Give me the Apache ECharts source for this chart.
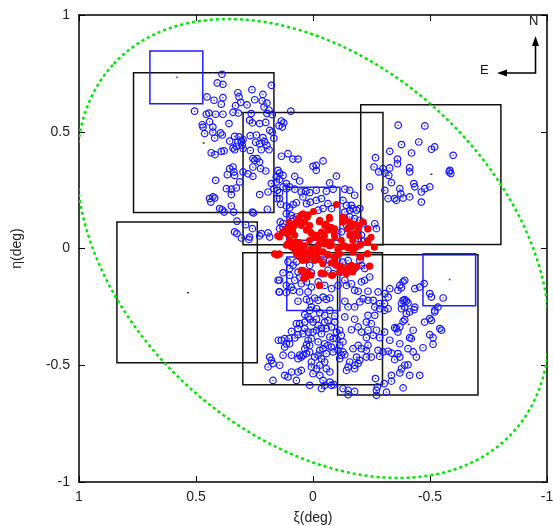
<!DOCTYPE html>
<html><head><meta charset="utf-8">
<script src="https://cdn.jsdelivr.net/npm/echarts@6/dist/echarts.min.js"></script>
<style>html,body{margin:0;padding:0;background:#fff}#c{width:553px;height:526px}</style>
</head><body><div id="c"></div>
<script>
// ---- data ----
var xTickValues = [1, 0.5, 0, -0.5, -1];
var yTickValues = [-1, -0.5, 0, 0.5, 1];

// black field boxes: [xiA, xiB, etaA, etaB]
var blackBoxes = [
  [0.167, 0.767, 0.154, 0.753],
  [-0.299, 0.299, 0.016, 0.582],
  [-0.803, -0.204, 0.017, 0.616],
  [0.238, 0.838, -0.489, 0.113],
  [-0.297, 0.300, -0.583, -0.018],
  [-0.705, -0.105, -0.627, -0.027]
];
// blue boxes
var blueBoxes = [
  [0.471, 0.697, 0.620, 0.846],
  [-0.695, -0.470, -0.245, -0.022],
  [-0.115, 0.112, 0.035, 0.262],
  [-0.115, 0.112, -0.265, -0.036]
];
var blackCentres = [[0.467, 0.452], [-0.506, 0.318], [0.534, -0.189], [-0.409, -0.325]];
var blueCentres = [[0.582, 0.733], [-0.584, -0.133]];

// ellipse: centre xi, centre eta, semi-major, semi-minor, angle (deg)
var ellipseParams = [0, 0, 1.162, 0.796, 42.9];

var bluePoints = [
[0.389,0.746],[0.409,0.709],[0.385,0.703],[0.178,0.699],[0.321,0.667],[0.261,0.680],[0.214,0.660],[0.453,0.649],[0.423,0.635],[0.385,0.646],[0.316,0.649],[0.249,0.637],[0.217,0.632],[0.197,0.623],[0.392,0.618],[0.331,0.612],[0.282,0.615],[0.209,0.606],[0.309,0.626],[0.506,0.588],[0.456,0.575],[0.445,0.580],[0.416,0.575],[0.385,0.575],[0.342,0.583],[0.319,0.580],[0.264,0.578],[0.197,0.578],[0.188,0.592],[0.174,0.573],[0.095,0.588],[0.442,0.543],[0.473,0.530],[0.470,0.520],[0.428,0.520],[0.359,0.535],[0.271,0.549],[0.259,0.538],[0.228,0.535],[0.202,0.540],[0.135,0.546],[0.125,0.538],[0.145,0.526],[0.131,0.520],[0.428,0.498],[0.463,0.492],[0.395,0.495],[0.388,0.486],[0.335,0.480],[0.316,0.478],[0.299,0.466],[0.268,0.483],[0.242,0.486],[0.214,0.475],[0.185,0.506],[0.174,0.499],[0.167,0.472],[0.420,0.473],[0.356,0.460],[0.321,0.456],[0.306,0.460],[0.328,0.438],[0.302,0.442],[0.342,0.430],[0.335,0.423],[0.245,0.455],[0.228,0.449],[0.207,0.458],[0.197,0.442],[0.268,0.420],[0.221,0.423],[0.188,0.423],[0.380,0.418],[0.435,0.410],[0.419,0.402],[0.392,0.416],[0.299,0.428],[0.135,0.395],[0.107,0.406],[0.086,0.383],[0.064,0.383],[0.257,0.385],[0.239,0.385],[0.228,0.370],[0.249,0.378],[0.356,0.342],[0.342,0.349],[0.338,0.328],[0.366,0.316],[0.335,0.313],[0.299,0.328],[0.257,0.349],[0.224,0.342],[0.202,0.332],[0.278,0.320],[0.257,0.309],[0.150,0.335],[0.143,0.323],[0.128,0.313],[0.157,0.306],[0.078,0.309],[0.057,0.289],[0.000,0.352],[0.416,0.292],[0.313,0.285],[0.178,0.278],[0.157,0.285],[0.114,0.278],[0.143,0.296],
[0.370,0.256],[0.349,0.254],[0.328,0.259],[0.228,0.231],[0.192,0.242],[0.167,0.256],[0.152,0.249],[0.143,0.239],[0.128,0.264],[0.114,0.256],[0.100,0.264],[0.078,0.254],[0.050,0.242],[0.031,0.245],[0.014,0.239],[0.428,0.221],[0.442,0.214],[0.420,0.216],[0.437,0.199],[0.349,0.231],[0.399,0.171],[0.388,0.166],[0.380,0.156],[0.349,0.182],[0.339,0.156],[0.325,0.117],[0.288,0.102],[0.259,0.156],[0.254,0.152],[0.195,0.168],[0.154,0.214],[0.143,0.214],[0.138,0.189],[0.114,0.182],[0.100,0.174],[0.085,0.188],[0.071,0.196],[0.043,0.221],[0.028,0.192],[0.011,0.199],[0.114,0.149],[0.093,0.142],[0.085,0.128],[0.071,0.135],[0.140,0.114],[0.128,0.107],[0.335,0.071],[0.325,0.064],[0.306,0.045],[0.271,0.049],[0.274,0.039],[0.228,0.054],[0.221,0.064],[0.192,0.067],[0.185,0.049],[0.259,0.085],[0.143,0.085],[0.128,0.092],[0.114,0.071],[0.100,0.057],[0.107,-0.057],[0.100,-0.086],[0.085,-0.072],[0.071,-0.057],[0.064,-0.101],[0.100,-0.115],[0.128,-0.104],[0.143,-0.136],[0.114,-0.158],[0.093,-0.165],[0.078,-0.136],[0.057,-0.122],[0.050,-0.151],[0.014,-0.072],[0.007,-0.104],[0.028,-0.143],[0.007,-0.165],[0.143,-0.186],[0.114,-0.189],[0.085,-0.179],[0.057,-0.186],[0.021,-0.186],
[-0.014,0.249],[-0.057,0.245],[-0.086,0.254],[-0.136,0.254],[-0.157,0.249],[-0.178,0.228],[-0.242,0.264],[-0.307,0.249],[-0.321,0.214],[-0.349,0.214],[-0.356,0.206],[-0.371,0.256],[-0.375,0.235],[-0.385,0.216],[-0.413,0.221],[-0.435,0.264],[-0.463,0.242],[-0.478,0.256],[-0.499,0.264],[-0.463,0.199],[-0.014,0.206],[-0.036,0.214],[-0.064,0.192],[-0.022,0.164],[-0.043,0.171],[-0.079,0.171],[-0.128,0.206],[-0.143,0.185],[-0.136,0.156],[-0.157,0.164],[-0.171,0.171],[-0.186,0.164],[-0.200,0.171],[-0.164,0.185],[-0.136,0.128],[-0.157,0.135],[-0.178,0.128],[-0.200,0.121],[-0.214,0.106],[-0.264,0.106],[-0.271,0.085],[-0.143,0.099],[-0.150,0.085],[-0.121,0.071],[-0.164,0.057],[-0.186,0.064],[-0.207,0.057],[-0.193,0.042],[-0.207,0.035],[-0.014,0.006],[-0.014,-0.043],[-0.043,-0.058],[-0.071,-0.051],[-0.093,-0.065],[-0.064,-0.093],[-0.036,-0.108],[-0.086,-0.108],[-0.121,-0.101],[-0.143,-0.101],[-0.157,-0.079],[-0.178,-0.086],[-0.200,-0.051],[-0.207,-0.072],[-0.221,-0.086],[-0.128,-0.058],[-0.150,-0.051],[-0.022,-0.143],[-0.050,-0.158],[-0.079,-0.172],[-0.107,-0.158],[-0.136,-0.136],[-0.143,-0.158],[-0.164,-0.151],[-0.207,-0.143],[-0.221,-0.136],[-0.242,-0.122],[-0.178,-0.179],[-0.193,-0.183],[-0.235,-0.183],[-0.278,-0.186],[-0.307,-0.193],[-0.328,-0.172],[-0.371,-0.158],[-0.385,-0.143],[-0.392,-0.136],[-0.435,-0.172],[-0.456,-0.165],[-0.499,-0.193],
[-0.043,0.375],[-0.014,0.356],[-0.014,0.335],[-0.071,0.281],[-0.100,0.310],[-0.267,0.389],[-0.261,0.349],[-0.281,0.328],[-0.299,0.342],[-0.307,0.323],[-0.328,0.345],[-0.324,0.313],[-0.328,0.416],[-0.361,0.383],[-0.361,0.363],[-0.364,0.528],[-0.378,0.445],[-0.421,0.409],[-0.452,0.456],[-0.478,0.525],[-0.506,0.425],[-0.520,0.435],[-0.599,0.399],[-0.413,0.346],[-0.413,0.328],[-0.335,0.282],[-0.431,0.278],[-0.585,0.335],[-0.589,0.321],[-0.582,0.328],
[-0.506,-0.208],[-0.556,-0.212],[-0.321,-0.208],[-0.392,-0.219],[-0.399,-0.225],[-0.406,-0.233],[-0.378,-0.236],[-0.385,-0.222],[-0.235,-0.222],[-0.257,-0.222],[-0.285,-0.236],[-0.306,-0.236],[-0.264,-0.251],[-0.285,-0.258],[-0.306,-0.265],[-0.321,-0.258],[-0.378,-0.258],[-0.392,-0.251],[-0.435,-0.251],[-0.432,-0.262],[-0.534,-0.251],[-0.520,-0.265],[-0.520,-0.272],[-0.235,-0.286],[-0.264,-0.286],[-0.399,-0.279],[-0.413,-0.272],[-0.392,-0.305],[-0.385,-0.312],[-0.477,-0.315],[-0.499,-0.300],[-0.506,-0.308],[-0.542,-0.343],[-0.549,-0.350],[-0.228,-0.315],[-0.249,-0.322],[-0.371,-0.336],[-0.363,-0.358],[-0.428,-0.350],[-0.499,-0.369],[-0.513,-0.382],[-0.235,-0.350],[-0.271,-0.350],[-0.306,-0.358],[-0.257,-0.372],[-0.285,-0.382],[-0.228,-0.382],[-0.349,-0.339],[-0.356,-0.343],[-0.413,-0.382],[-0.420,-0.386],[-0.328,-0.393],[-0.371,-0.408],[-0.513,-0.410],[-0.470,-0.425],[-0.406,-0.429],[-0.428,-0.443],[-0.442,-0.465],[-0.235,-0.415],[-0.228,-0.436],[-0.278,-0.436],[-0.299,-0.443],[-0.321,-0.440],[-0.335,-0.448],[-0.363,-0.450],[-0.371,-0.465],[-0.249,-0.465],[-0.228,-0.465],[-0.285,-0.462],[-0.349,-0.476],[-0.392,-0.500],[-0.378,-0.515],[-0.406,-0.498],[-0.371,-0.533],[-0.335,-0.543],[-0.335,-0.568],[-0.413,-0.543],[-0.456,-0.543],[-0.267,-0.557],[-0.304,-0.579],[-0.275,-0.593],[-0.271,-0.608],[-0.271,-0.629],[-0.314,-0.615],[-0.385,-0.597],[-0.378,-0.168],[-0.363,-0.179],[-0.475,-0.150],
[0.064,-0.226],[0.028,-0.218],[0.014,-0.226],[-0.007,-0.212],[-0.022,-0.222],[-0.043,-0.208],[-0.057,-0.218],[-0.072,-0.212],[0.007,-0.250],[-0.015,-0.258],[0.014,-0.265],[-0.029,-0.275],[-0.072,-0.265],[-0.050,-0.286],[-0.093,-0.289],[-0.136,-0.226],[-0.150,-0.250],[-0.178,-0.250],[-0.200,-0.229],[-0.214,-0.215],[-0.136,-0.293],[-0.178,-0.303],[-0.193,-0.336],[-0.207,-0.358],[-0.164,-0.348],[0.035,-0.283],[0.021,-0.293],[0.014,-0.303],[0.035,-0.315],[0.057,-0.322],[0.071,-0.322],[0.064,-0.343],[0.035,-0.343],[0.000,-0.315],[-0.015,-0.303],[-0.022,-0.329],[-0.036,-0.343],[-0.050,-0.315],[-0.064,-0.308],[-0.057,-0.343],[-0.079,-0.336],[-0.093,-0.315],[-0.100,-0.358],[-0.114,-0.350],[-0.100,-0.386],[0.092,-0.355],[0.064,-0.369],[0.043,-0.365],[0.021,-0.358],[0.000,-0.358],[-0.015,-0.350],[-0.036,-0.365],[-0.072,-0.379],[-0.086,-0.386],[0.135,-0.393],[0.121,-0.386],[0.102,-0.386],[0.114,-0.408],[0.121,-0.422],[0.100,-0.408],[0.078,-0.383],[0.021,-0.393],[0.028,-0.412],[0.035,-0.429],[0.014,-0.415],[0.007,-0.386],[-0.022,-0.400],[-0.050,-0.408],[-0.064,-0.415],[-0.079,-0.422],[-0.086,-0.443],[-0.057,-0.450],[-0.043,-0.429],[-0.029,-0.436],[-0.022,-0.457],[-0.036,-0.472],[-0.007,-0.465],[0.007,-0.486],[0.014,-0.443],[0.028,-0.450],[0.043,-0.457],[0.057,-0.457],[0.064,-0.472],[0.050,-0.465],[0.092,-0.457],[0.128,-0.457],[0.142,-0.500],[0.185,-0.465],[0.178,-0.479],[0.192,-0.507],[0.171,-0.493],[0.121,-0.543],[0.107,-0.550],[0.092,-0.529],[0.064,-0.529],[0.050,-0.522],[0.007,-0.507],[-0.015,-0.515],[-0.029,-0.500],[-0.050,-0.486],[-0.057,-0.515],[-0.072,-0.529],[0.000,-0.536],[-0.029,-0.543],[-0.043,-0.565],[-0.050,-0.586],[-0.036,-0.600],[0.014,-0.586],[0.071,-0.565],[-0.072,-0.572],[-0.114,-0.472],[-0.121,-0.457],[-0.128,-0.443],[-0.107,-0.436],[-0.114,-0.415],[-0.136,-0.455],[-0.157,-0.486],[-0.178,-0.500],[-0.193,-0.493],[-0.178,-0.515],[-0.143,-0.522],[-0.150,-0.507],[-0.186,-0.465],[-0.200,-0.479],[-0.207,-0.429],[-0.193,-0.415],[-0.171,-0.429],[-0.128,-0.400],[-0.121,-0.372],[-0.128,-0.600],[-0.150,-0.607],[-0.150,-0.626],[-0.178,-0.612],[0.171,-0.565],[-0.079,-0.586],[-0.089,-0.583],[0.149,-0.136],[0.145,-0.186],[0.148,-0.393]
];

var redPoints = [
[0.143,0.049],[0.154,-0.029],[0.145,-0.022],[0.128,0.071],[0.114,0.082],[0.100,0.092],[0.093,0.071],[0.078,0.057],[0.071,0.114],[0.064,0.128],[0.043,0.149],[0.021,0.145],[0.036,0.114],[0.050,0.099],[0.014,0.099],[0.028,0.078],[0.007,0.064],[0.100,0.035],[0.071,0.028],[0.057,0.014],[0.093,0.007],[0.078,-0.008],[0.043,-0.008],[0.028,-0.015],[0.007,0.000],[0.057,-0.036],[0.043,-0.022],[0.028,-0.050],[0.071,-0.022],[0.036,-0.101],[0.040,-0.129],[0.050,-0.093],[0.021,-0.115],[0.107,0.021],[0.114,0.014],
[-0.100,0.188],[-0.029,0.121],[-0.071,0.128],[-0.128,0.135],[-0.136,0.121],[-0.050,0.099],[-0.064,0.078],[-0.036,0.071],[-0.014,0.057],[-0.093,0.085],[-0.093,0.049],[-0.043,0.035],[-0.064,0.028],[-0.022,0.014],[-0.079,0.014],[-0.121,0.035],[-0.164,0.092],[-0.193,0.099],[-0.193,0.085],[-0.214,0.114],[-0.235,0.085],[-0.157,0.057],[-0.178,0.064],[-0.235,0.035],[-0.121,0.007],[-0.143,0.007],[-0.150,0.002],[-0.178,0.007],[-0.200,0.014],[-0.171,-0.015],[-0.107,-0.022],[-0.043,-0.015],[-0.014,-0.022],[-0.064,-0.029],[-0.200,-0.036],[-0.232,-0.022],[-0.242,-0.075],[-0.186,-0.079],[-0.164,-0.072],[-0.143,-0.108],[-0.100,-0.072],[-0.079,-0.115],[-0.029,-0.158],[-0.093,-0.058],
[-0.002,0.158],[0.051,0.144],[0.025,0.134],[0.058,0.124],[0.101,0.112],[0.080,0.098],[0.115,0.084],[0.151,0.055],[0.130,0.069],[0.108,0.062],[0.087,0.076],[0.023,0.084],[0.008,0.069],[-0.027,0.115],[-0.070,0.134],[-0.056,0.105],[-0.077,0.091],[-0.091,0.062],[-0.127,0.112],[-0.155,0.115],[-0.177,0.105],[-0.213,0.112],[-0.191,0.091],[-0.234,0.084],[-0.248,0.048],[-0.148,0.084],[-0.163,0.055],[-0.191,0.055],[-0.170,0.034],[-0.134,0.012],[-0.155,0.005],[-0.184,0.005],[-0.205,0.019],[-0.234,0.026],[-0.262,0.005],[0.108,0.019],[0.087,0.026],[0.058,0.026],[0.037,0.012],[0.015,0.034],[-0.006,0.048],[-0.027,0.041],[-0.049,0.019],[-0.070,0.012],[-0.020,0.005],[0.008,-0.002],[0.051,-0.002],[0.080,0.005],[-0.106,-0.002],[-0.077,0.026],[-0.049,0.055],
[0.165,-0.022],[0.144,-0.025],[0.073,-0.015],[0.051,-0.029],[0.023,-0.019],[0.001,-0.025],[-0.020,-0.019],[-0.042,-0.015],[-0.063,-0.025],[-0.091,-0.036],[-0.113,-0.022],[0.044,-0.051],[0.023,-0.043],[-0.006,-0.051],[-0.027,-0.048],[-0.042,-0.065],[-0.077,-0.062],[-0.099,-0.072],[-0.120,-0.076],[-0.148,-0.082],[-0.170,-0.079],[-0.188,-0.076],[-0.205,-0.036],[-0.234,-0.022],[-0.241,-0.076],[0.044,-0.093],[0.037,-0.108],[0.023,-0.101],[0.008,-0.115],[-0.035,-0.105],[-0.049,-0.108],[-0.084,-0.115],[-0.113,-0.101],[-0.134,-0.096],[-0.170,-0.101],[0.037,-0.129],[-0.027,-0.158]
];

// ---- chart ----
var chart = echarts.init(document.getElementById('c'), null, {renderer: 'canvas'});
var FONT = 'Liberation Sans, Arial, sans-serif';
var gridBox = {left: 79, top: 15, width: 468, height: 467, outerBoundsMode: 'none', containLabel: false};

function boxSeries(boxes, color, width) {
  return {
    type: 'custom', coordinateSystem: 'cartesian2d', silent: true, z: 3,
    encode: {x: [0, 1], y: [2, 3]},
    data: boxes,
    renderItem: function (params, api) {
      var a = api.coord([api.value(0), api.value(2)]);
      var b = api.coord([api.value(1), api.value(3)]);
      return {
        type: 'rect',
        shape: {x: Math.min(a[0], b[0]), y: Math.min(a[1], b[1]),
                width: Math.abs(a[0] - b[0]), height: Math.abs(a[1] - b[1])},
        style: {fill: null, stroke: color, lineWidth: width}
      };
    }
  };
}

var option = {
  animation: false,
  backgroundColor: '#fff',
  grid: gridBox,
  xAxis: [{
    type: 'value', inverse: true, min: -1, max: 1, interval: 0.5, position: 'bottom',
    name: 'ξ(deg)', nameLocation: 'middle', nameGap: 29,
    nameTextStyle: {fontFamily: FONT, fontSize: 14, color: '#222'},
    axisLine: {show: true, onZero: false, lineStyle: {color: '#000', width: 1.5}},
    axisTick: {show: true, inside: true, length: 6, lineStyle: {color: '#000', width: 1}},
    axisLabel: {fontFamily: FONT, fontSize: 14, color: '#222', margin: 8, hideOverlap: false,
      formatter: function (v) { return xTickValues.indexOf(v) >= 0 ? String(v) : ''; }},
    splitLine: {show: false}
  }, {
    type: 'value', inverse: true, min: -1, max: 1, interval: 0.5, position: 'top',
    axisLine: {show: true, onZero: false, lineStyle: {color: '#000', width: 1.5}},
    axisTick: {show: true, inside: true, length: 6, lineStyle: {color: '#000', width: 1}},
    axisLabel: {show: false}, splitLine: {show: false}
  }],
  yAxis: [{
    type: 'value', min: -1, max: 1, interval: 0.5, position: 'left',
    name: 'η(deg)', nameLocation: 'middle', nameGap: 55, nameRotate: 90,
    nameTextStyle: {fontFamily: FONT, fontSize: 14, color: '#222'},
    axisLine: {show: true, onZero: false, lineStyle: {color: '#000', width: 1.5}},
    axisTick: {show: true, inside: true, length: 6, lineStyle: {color: '#000', width: 1}},
    axisLabel: {fontFamily: FONT, fontSize: 14, color: '#222', margin: 9,
      formatter: function (v) { return yTickValues.indexOf(v) >= 0 ? String(v) : ''; }},
    splitLine: {show: false}
  }, {
    type: 'value', min: -1, max: 1, interval: 0.5, position: 'right',
    axisLine: {show: true, onZero: false, lineStyle: {color: '#000', width: 1.5}},
    axisTick: {show: true, inside: true, length: 6, lineStyle: {color: '#000', width: 1}},
    axisLabel: {show: false}, splitLine: {show: false}
  }],
  series: [
    boxSeries(blackBoxes, '#111', 1.5),
    {
      type: 'scatter', name: 'members', data: bluePoints, z: 4,
      symbol: 'circle', symbolSize: 6.5,
      itemStyle: {color: 'rgba(0,0,0,0)', borderColor: '#1414ff', borderWidth: 1.2, opacity: 1}
    },
    {
      type: 'scatter', data: bluePoints, z: 4, silent: true,
      symbol: 'circle', symbolSize: 1.6, itemStyle: {color: '#1414ff'}
    },
    {
      type: 'scatter', name: 'core', data: redPoints, z: 5,
      symbol: 'circle', symbolSize: 7, itemStyle: {color: '#ff0000', opacity: 1}
    },
    boxSeries(blueBoxes, '#1f1fff', 1.5),
    {
      type: 'scatter', data: blackCentres, z: 6, symbol: 'rect', symbolSize: [2, 1.5],
      itemStyle: {color: '#000'}
    },
    {
      type: 'scatter', data: blueCentres, z: 6, symbol: 'rect', symbolSize: [2, 1.5],
      itemStyle: {color: '#1f1fff'}
    },
    {
      type: 'custom', coordinateSystem: 'cartesian2d', silent: true, z: 7, clip: true,
      data: [ellipseParams],
      encode: {x: 0, y: 1},
      renderItem: function (params, api) {
        var cx = api.value(0), cy = api.value(1), a = api.value(2), b = api.value(3);
        var ang = api.value(4) * Math.PI / 180;
        var pts = [];
        for (var i = 0; i <= 360; i++) {
          var t = i * Math.PI / 180;
          var u = a * Math.cos(t), v = b * Math.sin(t);
          pts.push(api.coord([cx + u * Math.cos(ang) - v * Math.sin(ang),
                              cy + u * Math.sin(ang) + v * Math.cos(ang)]));
        }
        var cs = params.coordSys;
        return {
          type: 'group',
          clipPath: {type: 'rect', shape: {x: cs.x, y: cs.y, width: cs.width, height: cs.height}},
          children: [{
            type: 'polyline', shape: {points: pts},
            style: {fill: null, stroke: '#00e600', lineWidth: 2.5, lineDash: [3, 3]}
          }]
        };
      }
    }
  ],
  graphic: [
    {type: 'text', left: 529, top: 15, style: {text: 'N', font: '13px ' + FONT, fill: '#111'}},
    {type: 'text', left: 480, top: 64, style: {text: 'E', font: '13px ' + FONT, fill: '#111'}},
    {type: 'polyline', shape: {points: [[535.5, 45], [535.5, 73], [506, 73]]},
      style: {stroke: '#000', lineWidth: 1.6, fill: null}},
    {type: 'polygon', shape: {points: [[535.5, 36], [532, 46], [539, 46]]}, style: {fill: '#000'}},
    {type: 'polygon', shape: {points: [[497, 73], [507, 69.5], [507, 76.5]]}, style: {fill: '#000'}}
  ]
};
chart.setOption(option);
</script>
</body></html>
